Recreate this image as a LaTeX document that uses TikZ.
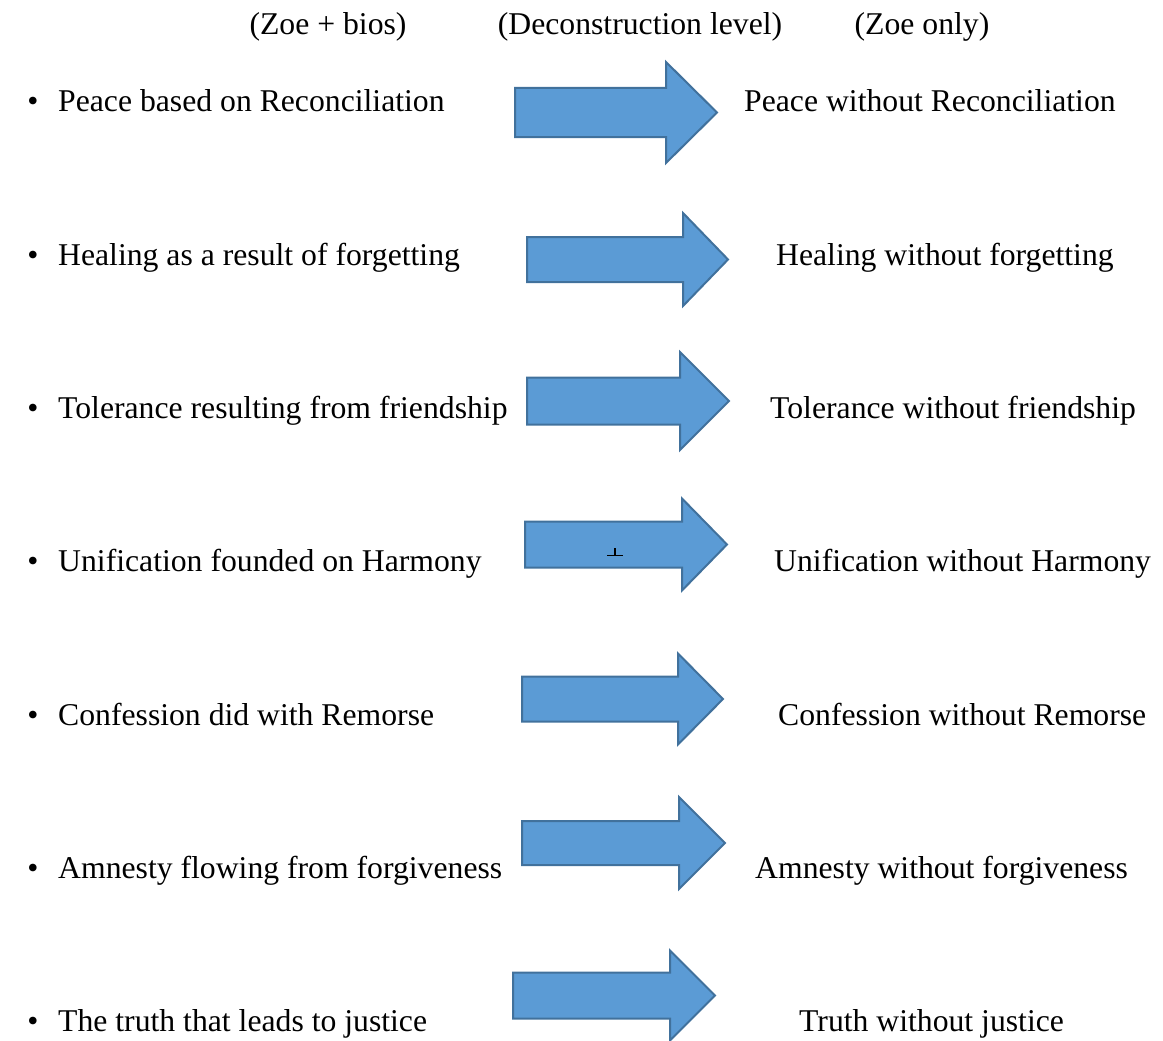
\documentclass[tikz,border=0pt]{standalone}
\usepackage{fontspec}
\setmainfont{Liberation Serif}
\usetikzlibrary{positioning}
\definecolor{arrowfill}{HTML}{5B9BD5}
\definecolor{arrowline}{HTML}{41719C}
% block arrow: left x, centre y, head base x, tip x, half shaft, half head
\newcommand{\blockarrow}[6]{%
  \draw[blockarrow] (#1,#2-#5) -- (#3,#2-#5) -- (#3,#2-#6) -- (#4,#2)
    -- (#3,#2+#6) -- (#3,#2+#5) -- (#1,#2+#5) -- cycle;}
\begin{document}
\begin{tikzpicture}[x=1pt, y=-1pt,
                    every node/.style={inner sep=0pt, font=\fontsize{31.7}{38}\selectfont},
                    head/.style={anchor=base},
                    item/.style={anchor=base west},
                    dot/.style={anchor=base},
                    blockarrow/.style={fill=arrowfill, draw=arrowline, line width=2pt, line join=miter}]
\useasboundingbox (0,0) rectangle (1163,1041);

% column heads
\node [head] (zb) at (328,35) {(Zoe + bios)};
\node [head] (dl) at (640,35) {(Deconstruction level)};
\node [head] (zo) at (922,35) {(Zoe only)};

% left column
\node [dot] (b1) at (33,112) {•};
\node [item] (peace) at (58,112) {Peace based on Reconciliation};
\node [dot] (b2) at (33,265) {•};
\node [item] (heal) at (58,265) {Healing as a result of forgetting};
\node [dot] (b3) at (33,418) {•};
\node [item] (tol) at (58,418) {Tolerance resulting from friendship};
\node [dot] (b4) at (33,571) {•};
\node [item] (unif) at (58,571) {Unification founded on Harmony};
\node [dot] (b5) at (33,725) {•};
\node [item] (conf) at (58,725) {Confession did with Remorse};
\node [dot] (b6) at (33,878) {•};
\node [item] (amn) at (58,878) {Amnesty flowing from forgiveness};
\node [dot] (b7) at (33,1031) {•};
\node [item] (truth) at (58,1031) {The truth that leads to justice};

% right column
\node [item] (peaceno) at (744,112) {Peace without Reconciliation};
\node [item] (healno) at (776,265) {Healing without forgetting};
\node [item] (tolno) at (770,418) {Tolerance without friendship};
\node [item] (unifno) at (774,571) {Unification without Harmony};
\node [item] (confno) at (778,725) {Confession without Remorse};
\node [item] (amnno) at (755,878) {Amnesty without forgiveness};
\node [item] (truthno) at (799,1031) {Truth without justice};

% arrows
\blockarrow{515}{112.5}{666}{717}{24.5}{50.5}
\blockarrow{527}{259.5}{683}{728}{22.5}{46.5}
\blockarrow{527}{401}{680}{729}{23.5}{49}
\blockarrow{525}{544.5}{682}{727}{23}{46}
\blockarrow{522}{699}{678}{723}{22.5}{45.5}
\blockarrow{522}{843}{679}{725}{22}{46}
\blockarrow{513}{995.5}{670}{715}{23}{45}

% stray mark in the fourth arrow
\draw [line width=1.2pt] (607,555.5) -- (623,555.5) (615,548) -- (615,555.5);
\end{tikzpicture}
\end{document}
